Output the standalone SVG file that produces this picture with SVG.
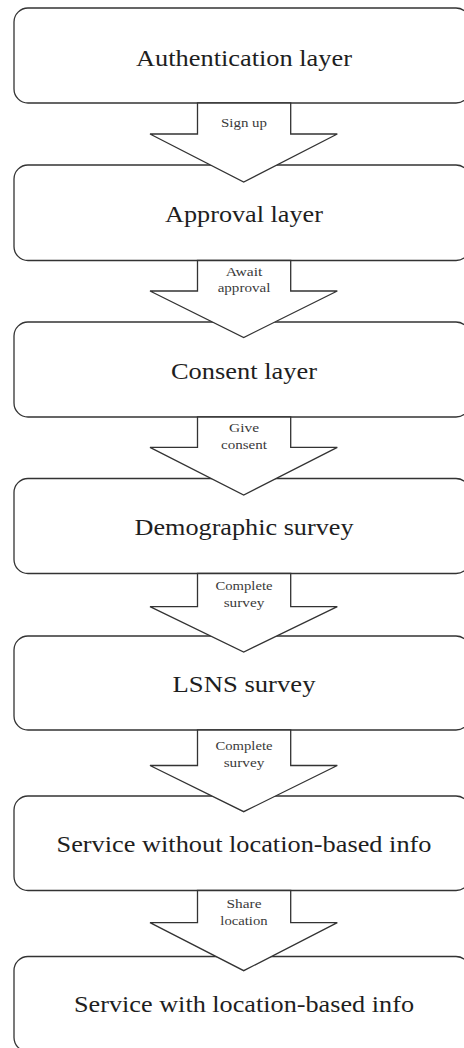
<svg xmlns="http://www.w3.org/2000/svg" width="464" height="1048" viewBox="0 0 464 1048">
  <style>
    .box { fill: #ffffff; stroke: #333333; stroke-width: 1.3; }
    .arrow { fill: #ffffff; stroke: #333333; stroke-width: 1.3; stroke-linejoin: miter; }
    .title { font-family: "Liberation Serif", "DejaVu Serif", serif; font-size: 23px; fill: #1e1e1e; text-anchor: middle; }
    .label { font-family: "Liberation Serif", "DejaVu Serif", serif; font-size: 13px; fill: #3a3a3a; text-anchor: middle; }
  </style>
  <rect width="464" height="1048" fill="#ffffff"/>

  <!-- layers of the onboarding flow -->
  <g id="node-authentication">
    <rect class="box" x="14" y="8" width="456" height="95" rx="14"/>
    <text class="title" x="244" y="66" textLength="216" lengthAdjust="spacingAndGlyphs">Authentication layer</text>
  </g>
  <g id="node-approval">
    <rect class="box" x="14" y="165" width="456" height="95.5" rx="14"/>
    <text class="title" x="244" y="222" textLength="158" lengthAdjust="spacingAndGlyphs">Approval layer</text>
  </g>
  <g id="node-consent">
    <rect class="box" x="14" y="322" width="456" height="95" rx="14"/>
    <text class="title" x="244" y="379" textLength="146" lengthAdjust="spacingAndGlyphs">Consent layer</text>
  </g>
  <g id="node-demographic">
    <rect class="box" x="14" y="478.5" width="456" height="95" rx="14"/>
    <text class="title" x="244" y="535" textLength="219" lengthAdjust="spacingAndGlyphs">Demographic survey</text>
  </g>
  <g id="node-lsns">
    <rect class="box" x="14" y="636" width="456" height="94" rx="14"/>
    <text class="title" x="244" y="692" textLength="143" lengthAdjust="spacingAndGlyphs">LSNS survey</text>
  </g>
  <g id="node-service-without">
    <rect class="box" x="14" y="796" width="456" height="94.5" rx="14"/>
    <text class="title" x="244" y="852" textLength="375" lengthAdjust="spacingAndGlyphs">Service without location-based info</text>
  </g>
  <g id="node-service-with">
    <rect class="box" x="14" y="956.5" width="456" height="95" rx="14"/>
    <text class="title" x="244" y="1012" textLength="340" lengthAdjust="spacingAndGlyphs">Service with location-based info</text>
  </g>

  <!-- block arrows between layers -->
  <g id="connectors">
    <g id="edge-sign-up">
      <path class="arrow" d="M197.5,103 V134 H150 L243.7,182 L337.3,134 H290.7 V103 Z"/>
      <text class="label" x="244" y="127" textLength="46" lengthAdjust="spacingAndGlyphs">Sign up</text>
    </g>
    <g id="edge-await-approval">
      <path class="arrow" d="M197.5,260.5 V291 H150 L243.7,337.5 L337.3,291 H290.7 V260.5 Z"/>
      <text class="label" x="244" y="276" textLength="36.7" lengthAdjust="spacingAndGlyphs">Await</text>
      <text class="label" x="244" y="292" textLength="52.7" lengthAdjust="spacingAndGlyphs">approval</text>
    </g>
    <g id="edge-give-consent">
      <path class="arrow" d="M197.5,417 V447.3 H150 L243.7,495 L337.3,447.3 H290.7 V417 Z"/>
      <text class="label" x="244" y="432" textLength="30" lengthAdjust="spacingAndGlyphs">Give</text>
      <text class="label" x="244" y="449" textLength="46" lengthAdjust="spacingAndGlyphs">consent</text>
    </g>
    <g id="edge-complete-demographic">
      <path class="arrow" d="M197.5,573.5 V606.7 H150 L243.7,652 L337.3,606.7 H290.7 V573.5 Z"/>
      <text class="label" x="244" y="590" textLength="57" lengthAdjust="spacingAndGlyphs">Complete</text>
      <text class="label" x="244" y="607" textLength="40.7" lengthAdjust="spacingAndGlyphs">survey</text>
    </g>
    <g id="edge-complete-lsns">
      <path class="arrow" d="M197.5,730 V765.5 H150 L243.7,811.7 L337.3,765.5 H290.7 V730 Z"/>
      <text class="label" x="244" y="750" textLength="57" lengthAdjust="spacingAndGlyphs">Complete</text>
      <text class="label" x="244" y="767" textLength="40.7" lengthAdjust="spacingAndGlyphs">survey</text>
    </g>
    <g id="edge-share-location">
      <path class="arrow" d="M197.5,890.5 V922.7 H150 L243.7,970.7 L337.3,922.7 H290.7 V890.5 Z"/>
      <text class="label" x="244" y="908" textLength="35" lengthAdjust="spacingAndGlyphs">Share</text>
      <text class="label" x="244" y="925" textLength="47.3" lengthAdjust="spacingAndGlyphs">location</text>
    </g>
  </g>
</svg>
